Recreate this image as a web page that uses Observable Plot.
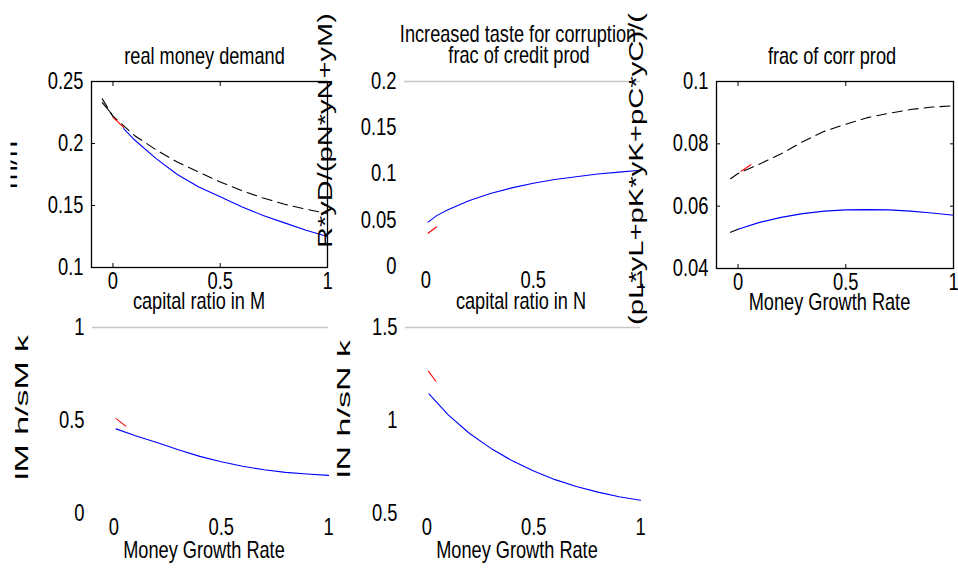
<!DOCTYPE html>
<html><head><meta charset="utf-8">
<script src="https://cdn.jsdelivr.net/npm/d3@7"></script>
<script src="https://cdn.jsdelivr.net/npm/@observablehq/plot@0.6"></script>
<style>
html,body{margin:0;padding:0;background:#fff;}
#fig{position:relative;width:958px;height:571px;overflow:hidden;background:#fff;}
#fig > svg{position:absolute;left:0;top:0;}
</style></head><body><div id="fig"></div>
<script>
// ---------- data ----------
const xTicks = [0, 0.5, 1];
const xDomain = [-0.1, 1];

// Panel 1: real money demand
const p1Ticks = [0.1, 0.15, 0.2, 0.25];
const p1BlueX = [0.05, 0.1, 0.2, 0.3, 0.4, 0.5, 0.6, 0.7, 0.8, 0.9, 1.0];
const p1BlueY = [0.212, 0.203, 0.188, 0.175, 0.165, 0.157, 0.149, 0.142, 0.136, 0.130, 0.125];
const p1DashX = [-0.05, 0.0, 0.1, 0.2, 0.3, 0.4, 0.5, 0.6, 0.7, 0.8, 0.9, 1.0];
const p1DashY = [0.236, 0.222, 0.2065, 0.195, 0.185, 0.177, 0.169, 0.162, 0.156, 0.151, 0.147, 0.1435];
const p1BlackX = [-0.05, -0.025, 0.0];
const p1BlackY = [0.233, 0.228, 0.222];
const p1RedX = [0.0, 0.05];
const p1RedY = [0.221, 0.213];

// Panel 2: frac of credit prod
const p2Ticks = [0, 0.05, 0.1, 0.15, 0.2];
const p2BlueX = [0.01, 0.05, 0.1, 0.2, 0.3, 0.4, 0.5, 0.6, 0.7, 0.8, 0.9, 1.0];
const p2BlueY = [0.048, 0.055, 0.061, 0.071, 0.079, 0.085, 0.090, 0.094, 0.097, 0.100, 0.102, 0.104];
const p2RedX = [0.01, 0.05];
const p2RedY = [0.036, 0.043];

// Panel 3: frac of corr prod
const p3Ticks = [0.04, 0.06, 0.08, 0.1];
const p3BlueX = [0.0, 0.1, 0.2, 0.3, 0.4, 0.5, 0.6, 0.7, 0.8, 0.9, 1.0];
const p3BlueY = [0.0526, 0.0548, 0.0564, 0.0576, 0.0584, 0.0588, 0.0589, 0.0588, 0.0584, 0.0578, 0.0571];
const p3BlackX = [-0.035, 0.0];
const p3BlackY = [0.0516, 0.0526];
const p3DashX = [-0.035, 0.0, 0.1, 0.2, 0.3, 0.4, 0.5, 0.6, 0.7, 0.8, 0.9, 1.0];
const p3DashY = [0.0688, 0.0705, 0.0735, 0.0768, 0.0807, 0.0840, 0.0863, 0.0884, 0.0898, 0.0910, 0.0918, 0.0922];
const p3RedX = [0.014, 0.06];
const p3RedY = [0.0712, 0.0733];

// Panel 4: capital ratio in M
const p4Ticks = [0, 0.5, 1];
const p4BlueX = [0.01, 0.1, 0.2, 0.3, 0.4, 0.5, 0.6, 0.7, 0.8, 0.9, 1.0];
const p4BlueY = [0.455, 0.418, 0.382, 0.343, 0.307, 0.278, 0.254, 0.235, 0.221, 0.212, 0.205];
const p4RedX = [0.01, 0.055];
const p4RedY = [0.51, 0.47];

// Panel 5: capital ratio in N
const p5Ticks = [0.5, 1, 1.5];
const p5BlueX = [0.01, 0.1, 0.2, 0.3, 0.4, 0.5, 0.6, 0.7, 0.8, 0.9, 1.0];
const p5BlueY = [1.143, 1.03, 0.93, 0.85, 0.783, 0.728, 0.682, 0.645, 0.615, 0.59, 0.571];
const p5RedX = [0.008, 0.042];
const p5RedY = [1.264, 1.211];

// ---------- helpers ----------
const W = 958, H = 571;
const FONT = "'Liberation Sans', Arial, Helvetica, sans-serif";
const SQ = 0.8;   // horizontal condensing of tick labels
const SQT = 0.79; // horizontal condensing of titles
const fmt = d => String(d);
const zip = (xs, ys) => xs.map((x, i) => ({x, y: ys[i]}));
const BLUE = "#0000ff", RED = "#ff0000", BLACK = "#000000";

function condense(svg, k) {
  svg.querySelectorAll("text").forEach(t => {
    const tr = t.getAttribute("transform") || "";
    t.setAttribute("transform", tr + ` scale(${k},1)`);
    const x = t.getAttribute("x");
    if (x != null) t.setAttribute("x", +x / k);
  });
}

function panel({frame: [l, t, r, b], yDomain, yTicks, boxed, series}) {
  const marks = [];
  if (!boxed) {
    marks.push(Plot.ruleY([yDomain[1]], {stroke: "#c8c8c8", strokeWidth: 1.5}));
  }
  for (const s of series) {
    marks.push(Plot.line(zip(s.x, s.y), {
      x: "x", y: "y", stroke: s.color, strokeWidth: 1.1,
      strokeDasharray: s.dash ? "10,6" : null
    }));
  }
  marks.push(Plot.axisY(yTicks, {anchor: "left", tickSize: 0, tickPadding: 8, tickFormat: fmt, label: null, fontSize: 23}));
  marks.push(Plot.axisX(xTicks, {anchor: "bottom", tickSize: 0, tickPadding: 5, tickFormat: fmt, label: null, fontSize: 23}));
  if (boxed) {
    marks.push(Plot.frame({stroke: BLACK, strokeWidth: 1.3}));
    marks.push(Plot.axisY(yTicks, {anchor: "left", tickSize: -4, tickFormat: () => "", label: null}));
    marks.push(Plot.axisY(yTicks, {anchor: "right", tickSize: -4, tickFormat: () => "", label: null}));
    marks.push(Plot.axisX(xTicks, {anchor: "bottom", tickSize: -4, tickFormat: () => "", label: null}));
    marks.push(Plot.axisX(xTicks, {anchor: "top", tickSize: -4, tickFormat: () => "", label: null}));
  }
  const svg = Plot.plot({
    width: W, height: H,
    marginLeft: l, marginTop: t, marginRight: W - r, marginBottom: H - b,
    x: {domain: xDomain, label: null},
    y: {domain: yDomain, label: null},
    style: {background: "transparent", fontFamily: FONT, fontSize: "23px", color: "black", overflow: "visible"},
    marks
  });
  condense(svg, SQ);
  return svg;
}

const fig = document.getElementById("fig");

fig.append(panel({
  frame: [91, 81, 327, 267], yDomain: [0.1, 0.25], yTicks: p1Ticks, boxed: true,
  series: [
    {x: p1DashX, y: p1DashY, color: BLACK, dash: true},
    {x: p1BlackX, y: p1BlackY, color: BLACK},
    {x: p1BlueX, y: p1BlueY, color: BLUE},
    {x: p1RedX, y: p1RedY, color: RED}
  ]
}));
fig.append(panel({
  frame: [404, 81, 640, 266], yDomain: [0, 0.2], yTicks: p2Ticks, boxed: false,
  series: [
    {x: p2BlueX, y: p2BlueY, color: BLUE},
    {x: p2RedX, y: p2RedY, color: RED}
  ]
}));
fig.append(panel({
  frame: [716, 81, 953, 268], yDomain: [0.04, 0.1], yTicks: p3Ticks, boxed: true,
  series: [
    {x: p3DashX, y: p3DashY, color: BLACK, dash: true},
    {x: p3BlueX, y: p3BlueY, color: BLUE},
    {x: p3BlackX, y: p3BlackY, color: BLACK},
    {x: p3RedX, y: p3RedY, color: RED}
  ]
}));
fig.append(panel({
  frame: [92, 327, 328, 513], yDomain: [0, 1], yTicks: p4Ticks, boxed: false,
  series: [
    {x: p4BlueX, y: p4BlueY, color: BLUE},
    {x: p4RedX, y: p4RedY, color: RED}
  ]
}));
fig.append(panel({
  frame: [405, 327, 640, 513], yDomain: [0.5, 1.5], yTicks: p5Ticks, boxed: false,
  series: [
    {x: p5BlueX, y: p5BlueY, color: BLUE},
    {x: p5RedX, y: p5RedY, color: RED}
  ]
}));

// ---------- text overlay (titles and axis labels) ----------
const titles = [
  {text: "real money demand", x: 204.5, y: 64},
  {text: "Increased taste for corruption", x: 518, y: 42},
  {text: "frac of credit prod", x: 519, y: 63},
  {text: "frac of corr prod", x: 832, y: 64},
  {text: "Money Growth Rate", x: 829.5, y: 310},
  {text: "capital ratio in M", x: 199, y: 309},
  {text: "capital ratio in N", x: 521, y: 309},
  {text: "Money Growth Rate", x: 204, y: 558},
  {text: "Money Growth Rate", x: 517, y: 558}
];
const ylabels = [
  {text: "R*yD/(pN*yN+yM)", x: 332, y: 130.5, size: 21, len: 235, anchor: "middle"},
  {text: "(pL*yL+pK*yK+pC*yC)/(", x: 643, y: 325, size: 21, len: 312, anchor: "start"},
  {text: "lM h/sM k", x: 28.3, y: 407.5, size: 19, len: 145, anchor: "middle"},
  {text: "lN h/sN k", x: 350, y: 409, size: 19, len: 138, anchor: "middle"},
  {text: "m/n", x: 16.7, y: 165, size: 21, len: 48, anchor: "middle", clip: true}
];

const ov = d3.create("svg").attr("width", W).attr("height", H)
  .style("position", "absolute").style("left", 0).style("top", 0).style("overflow", "hidden");
ov.append("defs").append("clipPath").attr("id", "cl")
  .append("rect").attr("x", 10.5).attr("y", 0).attr("width", W).attr("height", H);
ov.selectAll("text.t").data(titles).join("text").attr("class", "t")
  .attr("transform", d => `translate(${d.x},${d.y}) scale(${SQT},1)`)
  .attr("text-anchor", "middle").attr("font-family", FONT).attr("font-size", 23)
  .attr("fill", "black").text(d => d.text);
const g = ov.selectAll("g.yl").data(ylabels).join("g").attr("class", "yl")
  .attr("clip-path", d => d.clip ? "url(#cl)" : null);
g.append("text")
  .attr("transform", d => `translate(${d.x},${d.y}) rotate(-90)`)
  .attr("text-anchor", d => d.anchor).attr("font-family", FONT)
  .attr("font-size", d => d.size).attr("textLength", d => d.len)
  .attr("lengthAdjust", "spacingAndGlyphs").attr("fill", "black")
  .text(d => d.text);
fig.append(ov.node());
</script></body></html>
